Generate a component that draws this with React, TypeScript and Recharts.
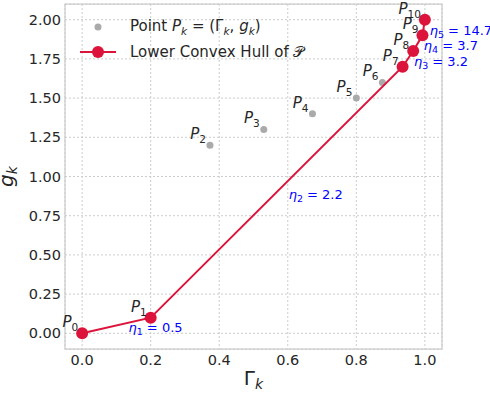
import React from "react";
import {
    ScatterChart,
    Scatter,
    XAxis,
    YAxis,
    CartesianGrid,
    ReferenceArea,
} from "recharts";

// values
const gammaValues = [0, 0.2, 0.373, 0.53, 0.672, 0.8, 0.876, 0.935, 0.966, 0.993, 1.0];
const gValues = [0, 0.1, 1.2, 1.3, 1.4, 1.5, 1.6, 1.7, 1.8, 1.9, 2.0];
const hullIndices = [0, 1, 7, 8, 9, 10];
const etaLabels = ["0.5", "2.2", "3.2", "3.7", "14.7"];
const xTicks = [0, 0.2, 0.4, 0.6, 0.8, 1.0];
const yTicks = [0, 0.25, 0.5, 0.75, 1.0, 1.25, 1.5, 1.75, 2.0];

const FONT = "'DejaVu Sans', sans-serif";
const RED = "#DC143C";
const GRAY = "#aaaaaa";
const TEXT = "#262626";

const points = gammaValues.map((x, k) => ({ x, y: gValues[k], k }));
const hull = hullIndices.map((i) => points[i]);
const etaPoints = hull.slice(1).map((p, i) => ({
    x: (p.x + hull[i].x) / 2,
    y: (p.y + hull[i].y) / 2,
    i: i + 1,
    label: etaLabels[i],
}));

const PLabel = (props: any) => {
    const { cx, cy, payload } = props;
    return (
        <text x={cx - 4} y={cy - 6} textAnchor="end" fontFamily={FONT} fontSize={15} fill={TEXT}>
            <tspan fontStyle="italic">P</tspan>
            <tspan fontSize={10.5} dy={4}>{payload.k}</tspan>
        </text>
    );
};

const EtaLabel = (props: any) => {
    const { cx, cy, payload } = props;
    // the long segments get their label a bit further from the midpoint
    const dx = payload.i <= 2 ? 12 : 6;
    return (
        <text x={cx + dx} y={cy + 7} fontFamily={FONT} fontSize={13} fill="blue">
            <tspan fontStyle="italic">η</tspan>
            <tspan fontSize={9.5} dy={3}>{payload.i}</tspan>
            <tspan dy={-3}> = {payload.label}</tspan>
        </text>
    );
};

const XLabel = (props: any) => {
    const { x, y, width } = props.viewBox;
    return (
        <text x={x + width / 2} y={y + 36} textAnchor="middle" fontFamily={FONT} fontSize={20} fill={TEXT}>
            <tspan>Γ</tspan>
            <tspan fontSize={14} dy={4} fontStyle="italic">k</tspan>
        </text>
    );
};

const YLabel = (props: any) => {
    const { x, y, height } = props.viewBox;
    const cx = x - 7;
    const cy = y + height / 2;
    return (
        <text x={cx} y={cy} textAnchor="middle" transform={`rotate(-90 ${cx} ${cy})`} fontFamily={FONT} fontSize={20} fill={TEXT}>
            <tspan fontStyle="italic">g</tspan>
            <tspan fontSize={14} dy={4} fontStyle="italic">k</tspan>
        </text>
    );
};

const Legend = () => (
    <div style={{ position: "absolute", left: 78, top: 14, fontFamily: FONT, fontSize: 15, color: TEXT }}>
        <div style={{ display: "flex", alignItems: "center", height: 25 }}>
            <svg width={40} height={20}>
                <circle cx={20} cy={10} r={3.5} fill={GRAY} />
            </svg>
            <span style={{ marginLeft: 12 }}>
                Point <i>P</i><sub style={{ fontSize: 10.5 }}><i>k</i></sub> = (Γ<sub style={{ fontSize: 10.5 }}><i>k</i></sub>, <i>g</i><sub style={{ fontSize: 10.5 }}><i>k</i></sub>)
            </span>
        </div>
        <div style={{ display: "flex", alignItems: "center", height: 25 }}>
            <svg width={40} height={20}>
                <line x1={2} x2={38} y1={10} y2={10} stroke={RED} strokeWidth={2} />
                <circle cx={20} cy={10} r={6} fill={RED} />
            </svg>
            <span style={{ marginLeft: 12 }}>Lower Convex Hull of 𝒫</span>
        </div>
    </div>
);

export default function App() {
    return (
        <div style={{ position: "absolute", left: 0, top: 0, width: 490, height: 396, background: "#fff" }}>
            <ScatterChart width={490} height={396} margin={{ top: 4, right: 48, left: 20, bottom: 17 }}>
                <CartesianGrid stroke="#cccccc" strokeDasharray="2 2" />
                <ReferenceArea x1={-0.05} x2={1.05} y1={-0.1} y2={2.1} fill="none" stroke="#cccccc" strokeWidth={1.25} />
                <XAxis
                    type="number"
                    dataKey="x"
                    domain={[-0.05, 1.05]}
                    ticks={xTicks}
                    tickFormatter={(v: number) => v.toFixed(1)}
                    axisLine={false}
                    tickLine={false}
                    tickSize={0}
                    tickMargin={6}
                    height={30}
                    tick={{ fontFamily: FONT, fontSize: 14.5, fill: TEXT }}
                    label={{ content: XLabel }}
                />
                <YAxis
                    type="number"
                    dataKey="y"
                    domain={[-0.1, 2.1]}
                    ticks={yTicks}
                    tickFormatter={(v: number) => v.toFixed(2)}
                    axisLine={false}
                    tickLine={false}
                    tickSize={0}
                    tickMargin={4}
                    width={45}
                    tick={{ fontFamily: FONT, fontSize: 14.5, fill: TEXT }}
                    label={{ content: YLabel }}
                />
                <Scatter data={points} fill={GRAY} isAnimationActive={false}
                    shape={(p: any) => <circle cx={p.cx} cy={p.cy} r={3.5} fill={GRAY} />} />
                <Scatter data={hull} fill={RED} isAnimationActive={false}
                    line={{ stroke: RED, strokeWidth: 2 }}
                    shape={(p: any) => <circle cx={p.cx} cy={p.cy} r={6} fill={RED} />} />
                <Scatter data={points} isAnimationActive={false} shape={PLabel} />
                <Scatter data={etaPoints} isAnimationActive={false} shape={EtaLabel} />
            </ScatterChart>
            <Legend />
        </div>
    );
}
